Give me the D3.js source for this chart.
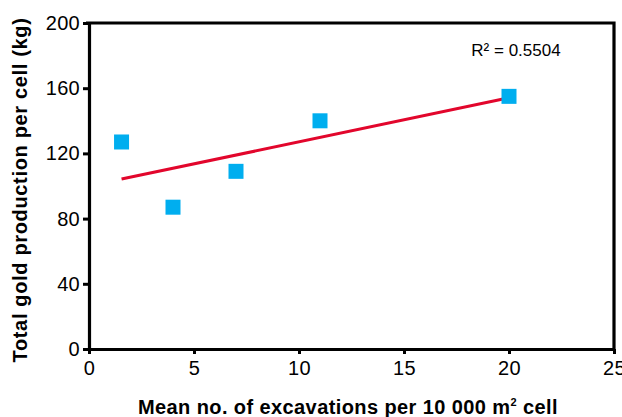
<!DOCTYPE html>
<html>
<head>
<meta charset="utf-8">
<script src="https://cdn.jsdelivr.net/npm/d3@7"></script>
<style>
  body { margin: 0; background: #fff; }
  svg text { font-family: "Liberation Sans", Arial, Helvetica, sans-serif; }
</style>
</head>
<body>
<script>
// values
const excavations = [1.55, 4.0, 7.0, 11.0, 20.0];
const goldKg = [127, 87, 109, 140, 155];
const xTicks = [0, 5, 10, 15, 20, 25];
const yTicks = [0, 40, 80, 120, 160, 200];
const r2Label = "R² = 0.5504";

const W = 622, H = 417;

const svg = d3.select("body").append("svg")
    .attr("width", W)
    .attr("height", H);

const x = d3.scaleLinear().domain([0, 25]).range([89, 614]);
const y = d3.scaleLinear().domain([0, 200]).range([349, 23]);

// frame (top + right)
svg.append("path")
    .attr("d", `M${x(0) - 3},${y(200)}H${x(25)}V${y(0)}`)
    .attr("fill", "none")
    .attr("stroke", "#000")
    .attr("stroke-width", 3.2);

const xAxis = svg.append("g")
    .attr("transform", `translate(0,${y(0)})`)
    .call(d3.axisBottom(x).tickValues(xTicks).tickSize(5).tickPadding(7).tickSizeOuter(0));

const yAxis = svg.append("g")
    .attr("transform", `translate(${x(0)},0)`)
    .call(d3.axisLeft(y).tickValues(yTicks).tickSize(6).tickPadding(3).tickSizeOuter(0));

[xAxis, yAxis].forEach(g => {
    g.attr("font-size", null).attr("font-family", null);
    g.select(".domain").attr("stroke-width", 3.2);
    g.selectAll(".tick line").attr("stroke-width", 3);
    g.selectAll(".tick text")
        .style("font-size", "20px")
        .style("letter-spacing", "0.3px")
        .attr("fill", "#000");
});

// least-squares trend line over the data range
const mx = d3.mean(excavations), my = d3.mean(goldKg);
const sxy = d3.sum(excavations, (v, i) => (v - mx) * (goldKg[i] - my));
const sxx = d3.sum(excavations, v => (v - mx) * (v - mx));
const slope = sxy / sxx, intercept = my - slope * mx;
const xr = d3.extent(excavations);

svg.append("line")
    .attr("x1", x(xr[0]))
    .attr("y1", y(intercept + slope * xr[0]))
    .attr("x2", x(xr[1]))
    .attr("y2", y(intercept + slope * xr[1]))
    .attr("stroke", "#e2062c")
    .attr("stroke-width", 3);

const s = 15;
svg.selectAll(".pt")
    .data(excavations)
    .enter().append("rect")
    .attr("class", "pt")
    .attr("x", d => x(d) - s / 2)
    .attr("y", (d, i) => y(goldKg[i]) - s / 2)
    .attr("width", s)
    .attr("height", s)
    .attr("fill", "#00aeef");

svg.append("text")
    .attr("x", 516)
    .attr("y", 56)
    .attr("text-anchor", "middle")
    .style("font-size", "17px")
    .text(r2Label);

// axis titles, spread to the reference widths
function fitWidth(t, target) {
    const n = t.text().length;
    const w = t.node().getComputedTextLength();
    t.style("letter-spacing", ((target - w) / n) + "px");
}

const xt = svg.append("text")
    .attr("x", 348)
    .attr("y", 414)
    .attr("text-anchor", "middle")
    .style("font-size", "20px")
    .attr("font-weight", "bold");
xt.append("tspan").text("Mean no. of excavations per 10 000 m");
xt.append("tspan").attr("dy", -8).style("font-size", "11px").text("2");
xt.append("tspan").attr("dy", 8).text(" cell");
fitWidth(xt, 420);

const yt = svg.append("text")
    .attr("transform", `translate(27,190) rotate(-90)`)
    .attr("text-anchor", "middle")
    .style("font-size", "20px")
    .attr("font-weight", "bold")
    .text("Total gold production per cell (kg)");
fitWidth(yt, 345);
</script>
</body>
</html>
